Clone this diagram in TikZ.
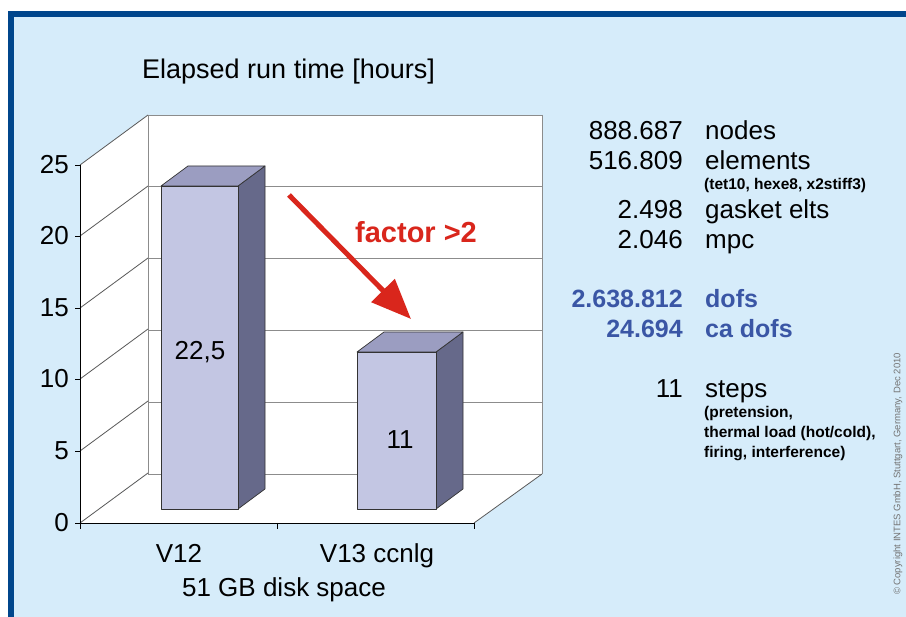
\documentclass[tikz,border=0pt]{standalone}
\usepackage{fontspec}
\setmainfont{Liberation Sans}
\usetikzlibrary{arrows.meta}
\definecolor{bgblue}{HTML}{D6ECFA}
\definecolor{frameblue}{HTML}{00468C}
\definecolor{barfront}{HTML}{C3C6E3}
\definecolor{bartop}{HTML}{9B9DC1}
\definecolor{barside}{HTML}{66698A}
\definecolor{arrowred}{HTML}{D9261C}
\definecolor{dofblue}{HTML}{3A56A5}
\definecolor{gridgray}{HTML}{8C8C8C}
\tikzset{
  big/.style={font=\fontsize{26}{30}\selectfont, inner sep=0pt},
  bigbold/.style={font=\fontsize{25}{30}\selectfont\bfseries, text=dofblue, inner sep=0pt},
  small/.style={font=\fontsize{15.5}{18}\selectfont\bfseries, inner sep=0pt},
  gridline/.style={draw=gridgray, line width=0.8pt},
  axisline/.style={draw=black, line width=0.8pt},
  barface/.style={draw=black!80, line width=0.7pt, line join=round},
}
\begin{document}
\begin{tikzpicture}[x=1pt,y=-1pt]
\useasboundingbox (0,0) rectangle (906,617);
% background and frame
\fill[white] (0,0) rectangle (906,617);
\fill[frameblue] (8,11) rectangle (906,617);
\fill[bgblue] (14,17) rectangle (906,617);
% chart walls
\fill[white] (148,115) rectangle (542,474);
\fill[white] (80,165) -- (148,115) -- (148,474) -- (80,523) -- cycle;
\fill[white] (80,523) -- (148,474) -- (542,474) -- (474,523) -- cycle;
% grid on back wall
\foreach \yy in {115,186,258,330,402,474} {
  \draw[gridline] (148,\yy) -- (542,\yy);
}
\draw[gridline] (148,115) -- (148,474);
\draw[gridline] (542,115) -- (542,474);
% grid on left wall
\foreach \yy in {165,236,308,379,451,523} {
  \draw[gridline, draw=black!65] (80,\yy) -- (148,\yy-50);
}
\draw[gridline, draw=black!65] (474,523) -- (542,474);
% axes
\draw[axisline] (80,165) -- (80,523) -- (474,523);
\foreach \yy in {165,236,308,379,451,523} {
  \draw[axisline] (75,\yy) -- (80,\yy);
}
\foreach \xx in {80,277,474} {
  \draw[axisline] (\xx,523) -- (\xx,529);
}
% tick labels
\node[big, anchor=east] (t25) at (69,165) {25};
\node[big, anchor=east] (t20) at (69,236) {20};
\node[big, anchor=east] (t15) at (69,308) {15};
\node[big, anchor=east] (t10) at (69,379) {10};
\node[big, anchor=east] (t5)  at (69,451) {5};
\node[big, anchor=east] (t0)  at (69,523) {0};
% bar V12
\filldraw[barface, fill=barside] (238,186) -- (265,166) -- (265,489) -- (238,509) -- cycle;
\filldraw[barface, fill=bartop] (161,186) -- (238,186) -- (265,166) -- (188,166) -- cycle;
\filldraw[barface, fill=barfront] (161,186) rectangle (238,509);
% bar V13
\filldraw[barface, fill=barside] (436,352) -- (463,332) -- (463,489) -- (436,509) -- cycle;
\filldraw[barface, fill=bartop] (357,352) -- (436,352) -- (463,332) -- (384,332) -- cycle;
\filldraw[barface, fill=barfront] (357,352) rectangle (436,509);
% bar values
\node[big] (v1) at (200,352) {22,5};
\node[big] (v2) at (400,440) {11};
% title and axis labels
\node[font=\fontsize{27}{30}\selectfont, inner sep=0pt, anchor=base west] (title) at (142,79) {Elapsed run time [hours]};
\node[big, anchor=base] (x1) at (179,563) {V12};
\node[big, anchor=base] (x2) at (377,563) {V13 ccnlg};
\node[big, anchor=base] (disk) at (284,597) {51 GB disk space};
% arrow
\coordinate (astart) at (289,195);
\coordinate (aend) at (411,319);
\draw[arrowred, line width=5pt, -{Triangle[length=40pt,width=32pt]}] (astart) -- (aend);
\node[font=\fontsize{29}{32}\selectfont\bfseries, text=arrowred, inner sep=0pt, anchor=base west] (factor) at (355,243) {factor >2};
% right column
\node[big, anchor=base east] (n1) at (683,140) {888.687};
\node[big, anchor=base west] (l1) at (705,140) {nodes};
\node[big, anchor=base east] (n2) at (683,170) {516.809};
\node[big, anchor=base west] (l2) at (705,170) {elements};
\node[small, anchor=base west] (s2) at (704,190) {(tet10, hexe8, x2stiff3)};
\node[big, anchor=base east] (n3) at (683,219) {2.498};
\node[big, anchor=base west] (l3) at (705,219) {gasket elts};
\node[big, anchor=base east] (n4) at (683,249) {2.046};
\node[big, anchor=base west] (l4) at (705,249) {mpc};
\node[bigbold, anchor=base east] (n5) at (683,308) {2.638.812};
\node[bigbold, anchor=base west] (l5) at (705,308) {dofs};
\node[bigbold, anchor=base east] (n6) at (683,338) {24.694};
\node[bigbold, anchor=base west] (l6) at (705,338) {ca dofs};
\node[big, anchor=base east] (n7) at (683,398) {11};
\node[big, anchor=base west] (l7) at (705,398) {steps};
\node[small, anchor=base west] (s7a) at (704,418) {(pretension,};
\node[small, anchor=base west] (s7b) at (704,438) {thermal load (hot/cold),};
\node[small, anchor=base west] (s7c) at (704,458) {firing, interference)};
% copyright
\node[font=\fontsize{9.5}{11}\selectfont, text=black!55, rotate=90, inner sep=0pt] (copy) at (898,474) {© Copyright INTES GmbH, Stuttgart, Germany, Dec 2010};
\end{tikzpicture}
\end{document}
